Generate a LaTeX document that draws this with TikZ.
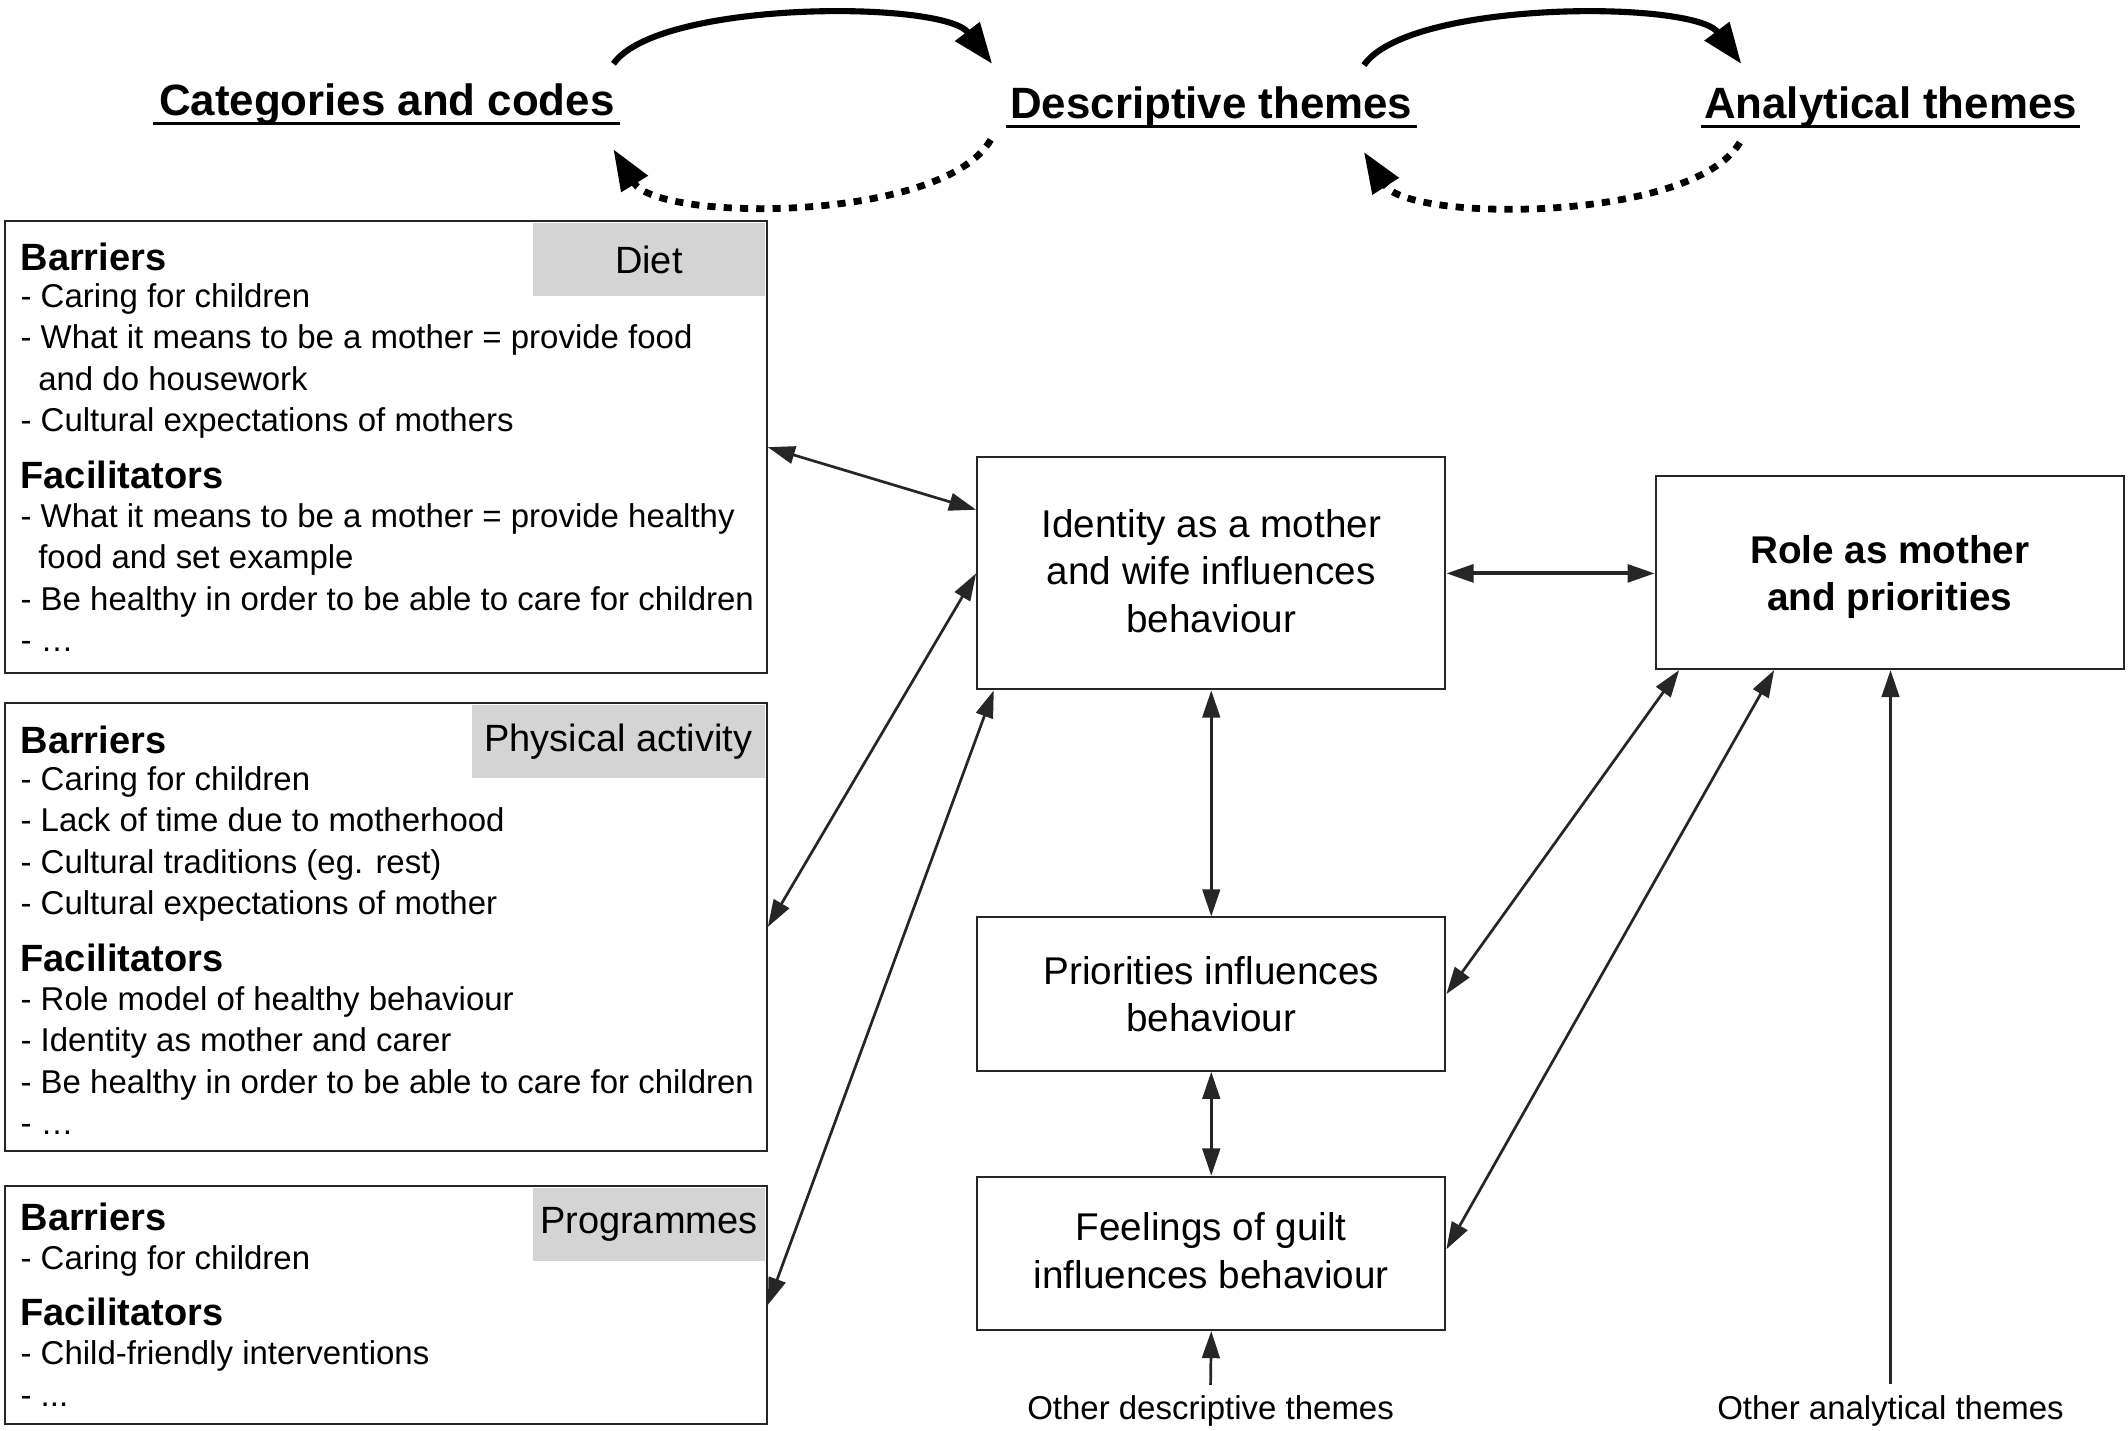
\documentclass[tikz,border=0pt]{standalone}
\usepackage{fontspec}
\setmainfont{Liberation Sans}
\usetikzlibrary{arrows.meta,calc}
\definecolor{ln}{HTML}{262626}
\definecolor{taggray}{HTML}{D4D4D4}
\begin{document}
\begin{tikzpicture}[x=1pt,y=-1pt,
  lbox/.style={draw=ln, line width=1.5pt, minimum width=561pt, inner sep=0pt},
  tag/.style={fill=taggray, inner sep=0pt, minimum height=54pt, anchor=north east, font=\fontsize{28}{34}\selectfont},
  hd/.style={anchor=base west, inner sep=0pt, font=\fontsize{28}{34}\selectfont\bfseries},
  tx/.style={anchor=base west, inner sep=0pt, font=\fontsize{24.3}{30}\selectfont},
  cbox/.style={draw=ln, line width=1.5pt, minimum width=345pt, align=center, inner sep=0pt, font=\fontsize{28.5}{35}\selectfont},
  ttl/.style={anchor=base, inner sep=0pt, font=\fontsize{32.3}{38}\selectfont\bfseries},
  small/.style={inner sep=0pt, font=\fontsize{24.3}{30}\selectfont},
  con/.style={draw=ln, line width=2pt, {Triangle[length=20pt,width=13pt]}-{Triangle[length=20pt,width=13pt]}},
  sar/.style={draw=ln, line width=2pt, -{Triangle[length=20pt,width=13pt]}},
  bigsolid/.style={draw=black, line width=4.5pt, -{Triangle[length=30pt,width=22pt]}},
  bigdash/.style={draw=black, line width=5pt, dash pattern=on 6pt off 6pt, -{Triangle[length=30pt,width=22pt,sep=0pt]}},
  uline/.style={draw=black, line width=2.5pt}
]
\useasboundingbox (0,0) rectangle (1568,1054);

% ---------- titles ----------
\node[ttl] (cat) at (285,85) {Categories and codes};
\node[ttl] (des) at (892.5,87) {Descriptive themes};
\node[ttl] (ana) at (1393,87) {Analytical themes};
\draw[uline] ($(cat.base west)+(-4,6)$) -- ($(cat.base east)+(4,6)$);
\draw[uline] ($(des.base west)+(-3,6)$) -- ($(des.base east)+(3,6)$);
\draw[uline] ($(ana.base west)+(-2,6)$) -- ($(ana.base east)+(2,6)$);

\coordinate (c1s) at (452,47);  \coordinate (c1e) at (731,47);
\coordinate (d1s) at (730,103); \coordinate (d1e) at (452,110);
\coordinate (c2s) at (1005,48); \coordinate (c2e) at (1283,47);
\coordinate (d2s) at (1282,105);\coordinate (d2e) at (1005,112);
\draw[bigsolid] (c1s) .. controls (485,0) and (695,0) .. (c1e);
\draw[bigdash]  (d1s) .. controls (695,164) and (485,164) .. (d1e);
\draw[bigsolid] (c2s) .. controls (1038,0) and (1248,0) .. (c2e);
\draw[bigdash]  (d2s) .. controls (1247,164) and (1038,164) .. (d2e);

% ---------- left boxes ----------
\node[lbox, minimum height=333pt] (diet) at (284.5,329.5) {};
\node[tag, minimum width=171pt] (diettag) at ($(diet.north east)+(-2,2)$) {Diet};
\node[hd] (d1) at (15,199) {Barriers};
\node[tx] (d2) at (15,226.5) {- Caring for children};
\node[tx] (d3) at (15,257) {- What it means to be a mother = provide food};
\node[tx] (d4) at (28,287.5) {and do housework};
\node[tx] (d5) at (15,318) {- Cultural expectations of mothers};
\node[hd] (d6) at (15,360) {Facilitators};
\node[tx] (d7) at (15,388.5) {- What it means to be a mother = provide healthy};
\node[tx] (d8) at (28,419) {food and set example};
\node[tx] (d9) at (15,449.5) {- Be healthy in order to be able to care for children};
\node[tx] (d10) at (15,480) {- …};

\node[lbox, minimum height=330pt] (pa) at (284.5,683) {};
\node[tag, minimum width=216pt] (patag) at ($(pa.north east)+(-2,2)$) {Physical activity};
\node[hd] (p1) at (15,555) {Barriers};
\node[tx] (p2) at (15,582.5) {- Caring for children};
\node[tx] (p3) at (15,613) {- Lack of time due to motherhood};
\node[tx] (p4) at (15,643.5) {- Cultural traditions (eg. rest)};
\node[tx] (p5) at (15,674) {- Cultural expectations of mother};
\node[hd] (p6) at (15,716) {Facilitators};
\node[tx] (p7) at (15,744.5) {- Role model of healthy behaviour};
\node[tx] (p8) at (15,775) {- Identity as mother and carer};
\node[tx] (p9) at (15,805.5) {- Be healthy in order to be able to care for children};
\node[tx] (p10) at (15,836) {- …};

\node[lbox, minimum height=175pt] (prog) at (284.5,961.5) {};
\node[tag, minimum width=171pt] (progtag) at ($(prog.north east)+(-2,2)$) {Programmes};
\node[hd] (g1) at (15,907) {Barriers};
\node[tx] (g2) at (15,935.5) {- Caring for children};
\node[hd] (g3) at (15,977) {Facilitators};
\node[tx] (g4) at (15,1005.5) {- Child-friendly interventions};
\node[tx] (g5) at (15,1036) {- ...};

% ---------- centre and right boxes ----------
\node[cbox, minimum height=171pt] (id) at (892.5,422.5) {};
\node[align=center, inner sep=0pt, font=\fontsize{28.5}{35}\selectfont] (idt) at (892.5,420.5) {Identity as a mother\\and wife influences\\behaviour};
\node[cbox, minimum height=113pt] (pr) at (892.5,732.5) {Priorities influences\\behaviour};
\node[cbox, minimum height=113pt] (fe) at (892.5,923.5) {};
\node[align=center, inner sep=0pt, font=\fontsize{28.5}{35}\selectfont] (fet) at (892.5,921.5) {Feelings of guilt\\influences behaviour};
\node[cbox, minimum height=142pt] (role) at (1392.5,422) {};
\node[align=center, inner sep=0pt, font=\fontsize{28.5}{35}\selectfont\bfseries] (rolet) at (1392.5,425) {Role as mother\\and priorities};

\node[small] (od) at (892,1040) {Other descriptive themes};
\node[small] (oa) at (1393,1040) {Other analytical themes};

% ---------- connectors ----------
\draw[con] (diet.east) -- ($(id.north west)!0.228!(id.south west)$);
\draw[con] (pa.east) -- (id.west);
\draw[con] (prog.east) -- ($(id.south west)+(13,0)$);
\draw[con, line width=2.8pt] (id.east) -- (id.east -| role.west);
\draw[con] (id.south) -- (pr.north);
\draw[con] (pr.south) -- (fe.north);
\draw[con] ($(role.south west)+(18,0)$) -- (pr.east);
\draw[con] ($(role.south west)+(88,0)$) -- ($(fe.east)+(0,-3)$);
\draw[sar] ($(oa.north)+(0,-9)$) -- (oa.north |- role.south);
\draw[sar] ($(od.north)+(0,-8)$) -- (fe.south);
\end{tikzpicture}
\end{document}
